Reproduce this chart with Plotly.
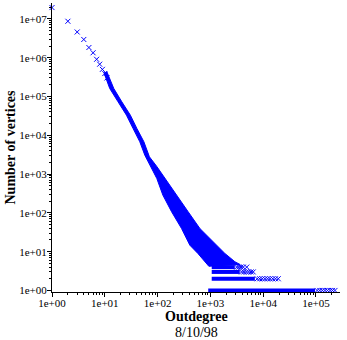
import plotly.graph_objects as go

# outdegree distribution of the 8/10/98 crawl
head_degree = [1, 2, 3, 4, 5, 6, 7, 8, 9, 10, 11]
head_count = [1.96e7, 8.7e6, 4.6e6, 2.95e6, 1.83e6, 1.34e6, 9.1e5, 6.8e5, 5.0e5, 3.9e5, 3.0e5]

# dense part of the cloud: upper-left and lower-right edge of the band
band_left_degree = [9.6, 12.4, 17.8, 25.7, 34.3, 46, 57.3, 71.2, 96.6, 126, 184, 284, 408, 579, 786, 935]
band_left_count = [4.16e5, 1.61e5, 7.3e4, 3.3e4, 1.5e4, 6.8e3, 3.07e3, 1.77e3, 770, 286, 107, 39.6, 14.7, 9.0, 5.5, 4.2]
band_right_degree = [10.9, 14.8, 21.0, 30.5, 40.5, 55, 70, 96.6, 137, 231, 379, 632, 1310, 1880, 2910, 3620]
band_right_count = [4.41e5, 1.61e5, 7.3e4, 3.3e4, 1.5e4, 6.8e3, 2.79e3, 1.57e3, 770, 286, 107, 39.6, 14.7, 9.0, 5.5, 4.7]

# large outdegrees with only a few vertices: solid runs, then sparse tails
run_count = [1, 2, 3, 4]
run_start = [910, 1060, 1060, 1060]
run_end = [9.6e4, 6960, 3600, 2900]

tail_degree = [1.05e5, 1.18e5, 1.32e5, 1.48e5, 1.65e5, 1.85e5, 2.05e5, 2.29e5,
               7700, 8600, 9600, 10800, 12100, 13500, 15200, 17100, 19300,
               3900, 4300, 4800, 5300, 5900, 6480,
               3150, 3450, 3800, 4200, 4880]
tail_count = [1] * 8 + [2] * 9 + [3] * 6 + [4] * 5

tick_vals = [1, 10, 100, 1000, 1e4, 1e5, 1e6, 1e7]
tick_text = ['1e+00', '1e+01', '1e+02', '1e+03', '1e+04', '1e+05', '1e+06', '1e+07']
minor_vals = [m * d for d in tick_vals for m in range(2, 10)]

BLUE = 'rgb(0,0,255)'
FONT = 'Liberation Serif, Times New Roman, serif'

fig = go.Figure()

# band as a filled polygon
fig.add_trace(go.Scatter(
    x=band_left_degree + band_right_degree[::-1],
    y=band_left_count + band_right_count[::-1],
    mode='lines', fill='toself', fillcolor=BLUE,
    line=dict(color=BLUE, width=1), hoverinfo='skip'))

run_x, run_y = [], []
for c, a, b in zip(run_count, run_start, run_end):
    run_x += [a, b, None]
    run_y += [c, c, None]
fig.add_trace(go.Scatter(x=run_x, y=run_y, mode='lines',
                         line=dict(color=BLUE, width=4), hoverinfo='skip'))

marker = dict(symbol='x-thin', size=5, line=dict(color=BLUE, width=1), color=BLUE)
fig.add_trace(go.Scatter(x=head_degree, y=head_count, mode='markers',
                         marker=marker, cliponaxis=False))
fig.add_trace(go.Scatter(x=tail_degree, y=tail_count, mode='markers',
                         marker=marker, cliponaxis=False))

axis_common = dict(
    type='log', showgrid=False, zeroline=False, automargin=False,
    showline=True, linecolor='black', linewidth=1,
    ticks='outside', ticklen=4, tickcolor='black',
    tickvals=tick_vals, ticktext=tick_text,
    minor=dict(tickvals=minor_vals, ticks='outside', ticklen=2, tickcolor='black'),
    tickfont=dict(family=FONT, size=11, color='black'),
)

fig.update_layout(
    width=347, height=340,
    margin=dict(l=52, r=7, t=3, b=48),
    plot_bgcolor='white', paper_bgcolor='white',
    showlegend=False,
    xaxis=dict(axis_common, range=[0, 5.455], ticklabelstandoff=-3),
    yaxis=dict(axis_common, range=[-0.04, 7.41], ticklabelstandoff=-2),
    annotations=[
        dict(text='<b>Outdegree</b>', xref='paper', yref='paper', x=0.5, y=0,
             yanchor='middle', yshift=-24, showarrow=False,
             font=dict(family=FONT, size=14, color='black')),
        dict(text='8/10/98', xref='paper', yref='paper', x=0.5, y=0,
             yanchor='middle', yshift=-40, showarrow=False,
             font=dict(family=FONT, size=14, color='black')),
        dict(text='<b>Number of vertices</b>', xref='paper', yref='paper', x=0, y=0.5,
             xanchor='center', xshift=-42, textangle=-90, showarrow=False,
             font=dict(family=FONT, size=14, color='black')),
    ],
)

# the page's default body margin would push the figure off its 347x340 box
fig.write_html("out.html", config={'displayModeBar': False},
               post_script="document.body.style.margin='0';")
